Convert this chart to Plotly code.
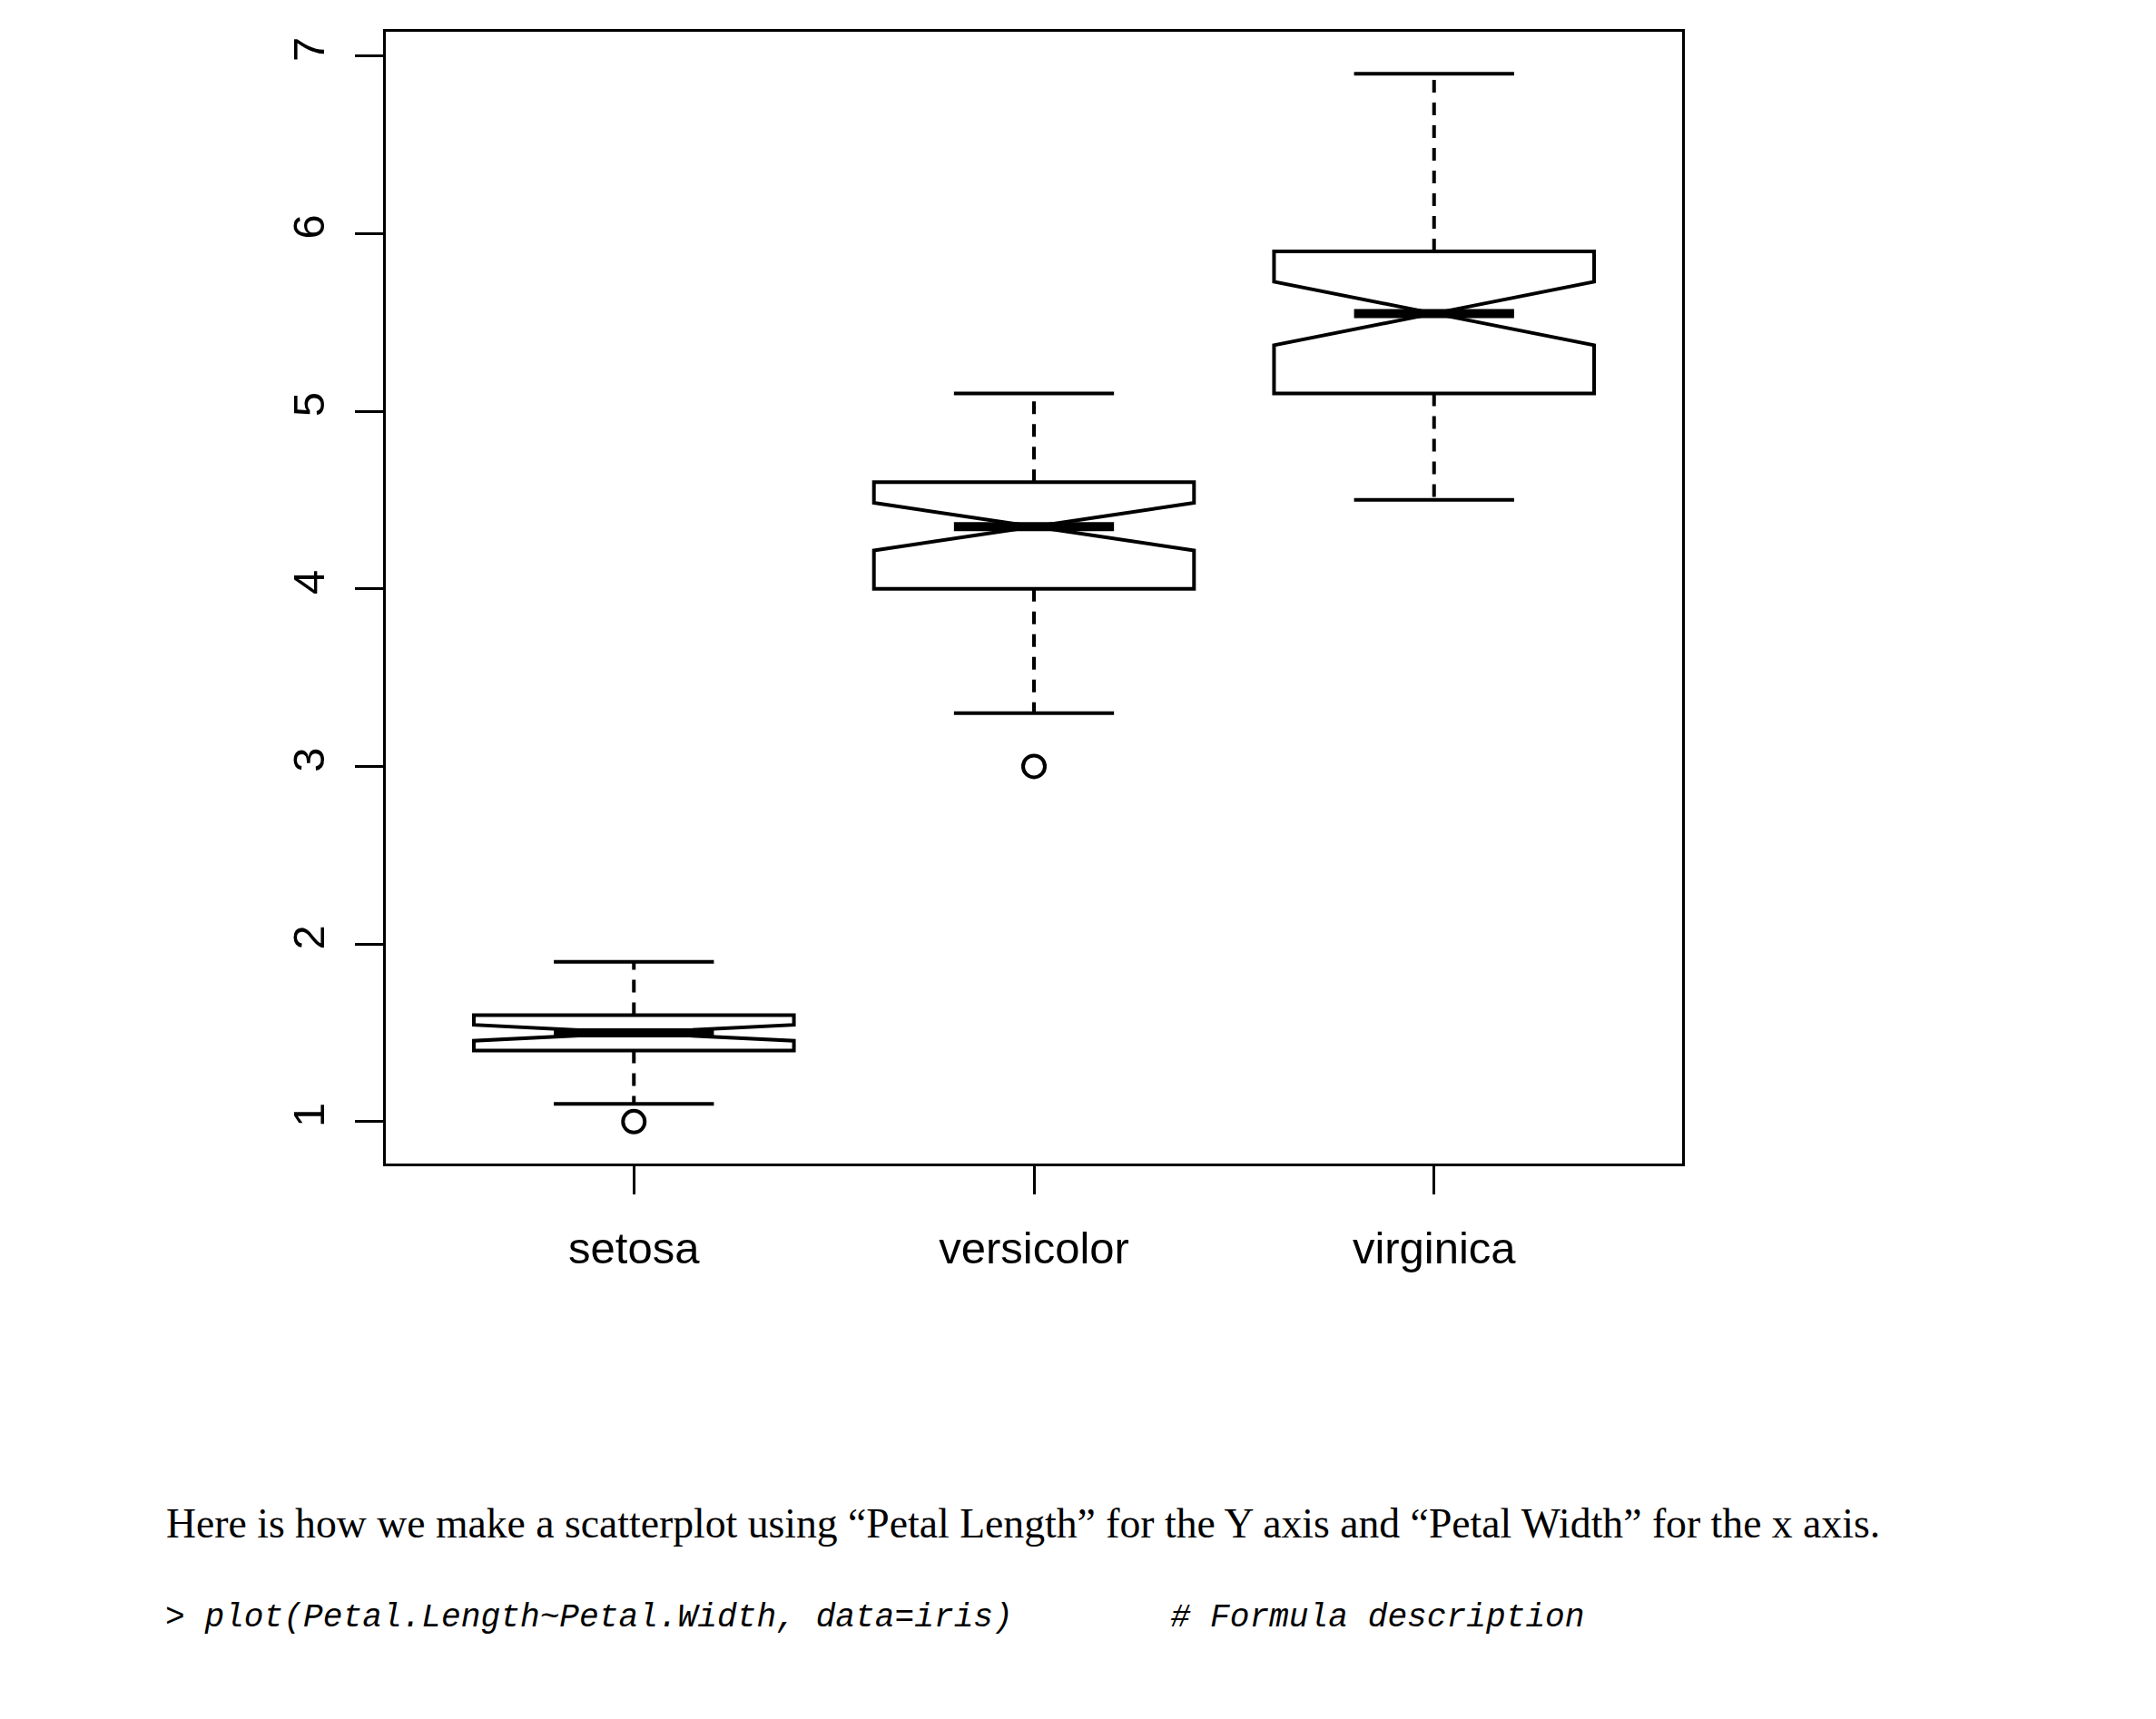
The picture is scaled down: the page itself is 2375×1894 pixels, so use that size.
import plotly.graph_objects as go

# ---- data ----
species = ["setosa", "versicolor", "virginica"]
lower_whisker = [1.1, 3.3, 4.5]
q1 = [1.4, 4.0, 5.1]
median = [1.5, 4.35, 5.55]
q3 = [1.6, 4.6, 5.9]
upper_whisker = [1.9, 5.1, 6.9]
notch_half = [0.045, 0.134, 0.179]
outlier_species = ["setosa", "versicolor"]
outlier_values = [1.0, 3.0]
y_ticks = [1, 2, 3, 4, 5, 6, 7]

positions = [i + 1 for i in range(len(species))]
pos_of = dict(zip(species, positions))
CAP = 0.2  # half width of whisker caps / median segment (style)

fig = go.Figure()

# notched boxes (library draws box + notch)
fig.add_trace(go.Box(
    x=positions, q1=q1, median=median, q3=q3,
    lowerfence=q1, upperfence=q3,
    notched=True, notchspan=notch_half, notchwidth=0.5,
    width=0.8, whiskerwidth=0,
    fillcolor="white", line=dict(color="black", width=4),
    boxpoints=False, showlegend=False, hoverinfo="skip",
))

# dashed whiskers
wx, wy = [], []
for p, a, b, c, d in zip(positions, lower_whisker, q1, q3, upper_whisker):
    wx += [p, p, None, p, p, None]
    wy += [c, d, None, b, a, None]
fig.add_trace(go.Scatter(x=wx, y=wy, mode="lines",
                         line=dict(color="black", width=4, dash="14px,11px"),
                         showlegend=False, hoverinfo="skip"))

# whisker caps
cx, cy = [], []
for p, a, d in zip(positions, lower_whisker, upper_whisker):
    cx += [p - CAP, p + CAP, None, p - CAP, p + CAP, None]
    cy += [d, d, None, a, a, None]
fig.add_trace(go.Scatter(x=cx, y=cy, mode="lines",
                         line=dict(color="black", width=4),
                         showlegend=False, hoverinfo="skip"))

# thick medians
mx, my = [], []
for p, m in zip(positions, median):
    mx += [p - CAP, p + CAP, None]
    my += [m, m, None]
fig.add_trace(go.Scatter(x=mx, y=my, mode="lines",
                         line=dict(color="black", width=10),
                         showlegend=False, hoverinfo="skip"))

# outliers
fig.add_trace(go.Scatter(
    x=[pos_of[s] for s in outlier_species], y=outlier_values, mode="markers",
    marker=dict(symbol="circle-open", size=24, color="black",
                line=dict(color="black", width=4)),
    showlegend=False, hoverinfo="skip"))

# page body has an 8px margin, so the figure is drawn 8px in from the window edge
OFF = 8
W, H = 2375 - 2 * OFF, 1894 - 2 * OFF
L, T = 424.5 - OFF, 34.7 - OFF
R = W - (1852.7 - OFF)
B = H - (1282 - OFF)
plot_h = H - T - B
plot_w = W - L - R

axis_font = dict(family="Liberation Sans, Arial, sans-serif", size=49, color="black")

fig.update_layout(
    width=W, height=H,
    margin=dict(l=L, r=R, t=T, b=B, pad=0),
    paper_bgcolor="white", plot_bgcolor="white",
    showlegend=False,
    xaxis=dict(range=[0.38, 3.62], tickvals=positions, ticktext=species,
               ticks="outside", ticklen=31, tickwidth=3.3, tickcolor="black",
               showline=True, linewidth=3.3, linecolor="black", mirror=True,
               showgrid=False, zeroline=False, tickfont=axis_font,
               ticklabelstandoff=17),
    yaxis=dict(range=[0.764, 7.136], tickvals=y_ticks,
               ticks="outside", ticklen=31, tickwidth=3.3, tickcolor="black",
               showline=True, linewidth=3.3, linecolor="black", mirror=True,
               showgrid=False, zeroline=False, tickfont=axis_font,
               tickangle=-90, ticklabelstandoff=14),
)

body_text = ("Here is how we make a scatterplot using \u201cPetal Length\u201d for the Y axis "
             "and \u201cPetal Width\u201d for the x axis.")
code_text = "> plot(Petal.Length~Petal.Width, data=iris)" + "\u00a0" * 8 + "# Formula description"

def paper_y(pix):
    # pix measured in window coordinates
    return (H - B - (pix - OFF)) / plot_h

def paper_x(pix):
    return ((pix - OFF) - L) / plot_w

fig.add_annotation(text=body_text, xref="paper", yref="paper",
                   x=paper_x(180), y=paper_y(1679), xanchor="left", yanchor="middle",
                   showarrow=False,
                   font=dict(family="Liberation Serif, Times New Roman, serif", size=45.7, color="black"))
fig.add_annotation(text="<i>" + code_text + "</i>", xref="paper", yref="paper",
                   x=paper_x(179), y=paper_y(1783), xanchor="left", yanchor="middle",
                   showarrow=False,
                   font=dict(family="Liberation Mono, monospace", size=36.2, color="black"))

fig.write_html("out.html")
